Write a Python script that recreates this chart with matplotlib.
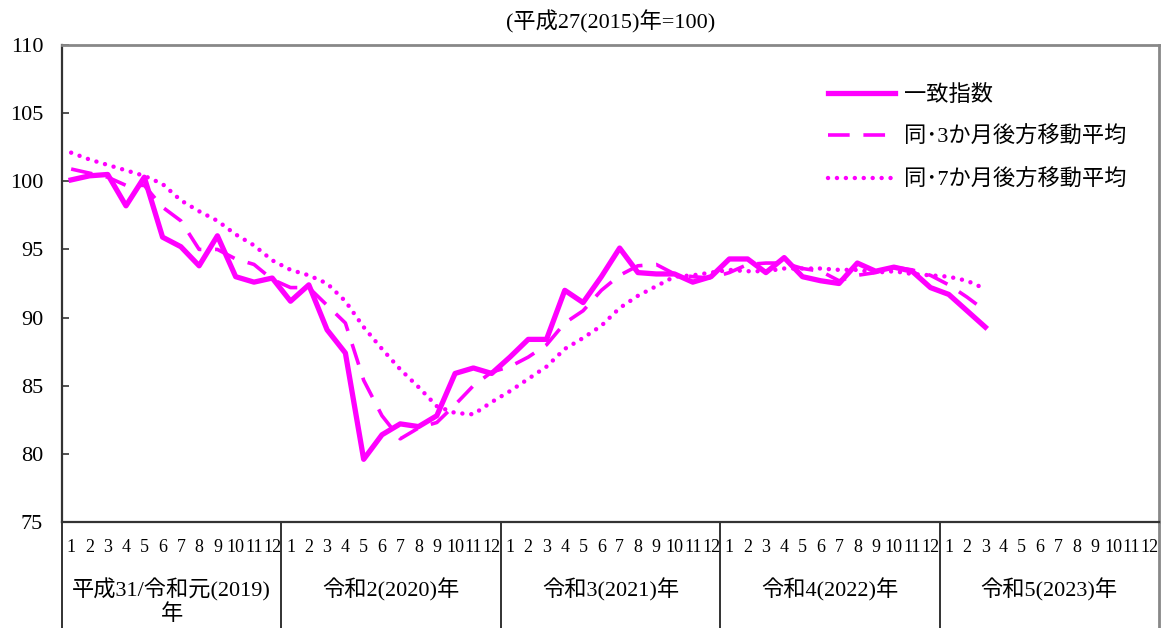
import matplotlib
matplotlib.use("Agg")
import matplotlib.pyplot as plt

# ---- data ----
years = ["平成31/令和元(2019)", "令和2(2020)年", "令和3(2021)年", "令和4(2022)年", "令和5(2023)年"]
months = [str(m) for m in range(1, 13)]

coincident = [100.1, 100.4, 100.5, 98.2, 100.3, 95.9, 95.2, 93.8, 96.0, 93.0, 92.6, 92.9,
              91.2, 92.4, 89.1, 87.4, 79.6, 81.4, 82.2, 82.0, 82.8, 85.9, 86.3, 85.9,
              87.1, 88.4, 88.4, 92.0, 91.1, 93.0, 95.1, 93.3, 93.2, 93.2, 92.6, 93.0,
              94.3, 94.3, 93.3, 94.4, 93.0, 92.7, 92.5, 94.0, 93.4, 93.7, 93.4, 92.2,
              91.7, 90.5, 89.3]

ma3 = [100.9, 100.6, 100.3, 99.7, 99.7, 98.1, 97.1, 95.0, 95.0, 94.3, 93.9, 92.8,
       92.2, 92.2, 90.9, 89.6, 85.4, 82.8, 81.1, 81.9, 82.3, 83.6, 85.0, 86.0,
       86.4, 87.1, 88.0, 89.6, 90.5, 92.0, 93.1, 93.8, 93.9, 93.2, 93.0, 92.9,
       93.3, 93.9, 94.0, 94.0, 93.6, 93.4, 92.7, 93.1, 93.3, 93.7, 93.5, 93.1,
       92.4, 91.5, 90.5]

ma7 = [102.1, 101.6, 101.2, 100.8, 100.4, 99.8, 98.6, 97.8, 97.1, 96.1, 95.3, 94.2,
       93.5, 93.1, 92.5, 91.2, 89.3, 87.7, 86.2, 84.9, 83.5, 83.0, 82.9, 83.8,
       84.6, 85.5, 86.4, 87.7, 88.5, 89.4, 90.7, 91.6, 92.3, 93.0, 93.1, 93.3,
       93.5, 93.4, 93.4, 93.6, 93.6, 93.6, 93.5, 93.5, 93.3, 93.4, 93.2, 93.1,
       93.0, 92.7, 92.1]

labels = ["一致指数", "同･3か月後方移動平均", "同･7か月後方移動平均"]
title = "(平成27(2015)年=100)"

# ---- figure ----
W, H = 1162, 628
fig = plt.figure(figsize=(W / 100, H / 100), dpi=100)
L, R, T, B = 62, 1159, 45, 522
ax = fig.add_axes([L / W, 1 - B / H, (R - L) / W, (B - T) / H])

FONT = ["Liberation Serif", "Noto Sans CJK JP", "DejaVu Sans"]
FS = 16
FS_M = 13
col = "#FF00FF"

x = list(range(len(coincident)))
ax.plot(x, coincident, color=col, lw=3.8, solid_joinstyle="round", label=labels[0], zorder=4)
ax.plot(x, ma3, color=col, lw=2.6, linestyle=(0, (6.0, 3.8)), label=labels[1], zorder=3)
ax.plot(x, ma7, color=col, lw=3.2, linestyle=(0, (0.01, 2.0)), dash_capstyle="round",
        label=labels[2], zorder=2)

n_months = len(years) * 12
ax.set_xlim(-0.5, n_months - 0.5)
ax.set_ylim(75, 110)
ax.set_yticks(range(75, 111, 5))
ax.set_yticklabels([str(v) for v in range(75, 111, 5)], fontfamily=FONT, fontsize=FS)
ax.tick_params(axis="y", direction="in", length=5, width=1.2, pad=13.5, color="#333333")
ax.set_xticks([])

for s in ["left", "bottom"]:
    ax.spines[s].set_color("#333333")
    ax.spines[s].set_linewidth(1.6)
for s in ["top", "right"]:
    ax.spines[s].set_color("#888888")
    ax.spines[s].set_linewidth(2.0)

# category table below the axes
trans = ax.get_xaxis_transform()
month_y = -(548 - B) / (B - T)
year_y = -(590 - B) / (B - T)
year2_y = -(615 - B) / (B - T)
bottom_y = -(H - B + 2) / (B - T)
for yi in range(len(years)):
    for mi, m in enumerate(months):
        ax.text(yi * 12 + mi, month_y, m, transform=trans, ha="center", va="center",
                fontfamily=FONT, fontsize=FS_M, clip_on=False)
    ax.text(yi * 12 + 5.5, year_y, years[yi], transform=trans, ha="center", va="center",
            fontfamily=FONT, fontsize=FS, clip_on=False)
ax.text(5.5, year2_y, "年", transform=trans, ha="center", va="center",
        fontfamily=FONT, fontsize=FS, clip_on=False)

for k in range(len(years) + 1):
    xv = k * 12 - 0.5
    c = "#888888" if k == len(years) else "#222222"
    ax.plot([xv, xv], [0, bottom_y], transform=trans, color=c,
            lw=2.0 if k == len(years) else 1.3, clip_on=False)

# title
fig.text((L + R) / 2 / W, 1 - 22 / H, title, ha="center", va="center",
         fontfamily=FONT, fontsize=FS)

# legend
leg = ax.legend(loc="upper left", bbox_to_anchor=(828 / W, 1 - 85 / H),
                bbox_transform=fig.transFigure, frameon=False, borderpad=0,
                borderaxespad=0, handlelength=3.0, handletextpad=0.4,
                labelspacing=0.95, prop={"family": FONT, "size": FS})

fig.savefig("out.png", dpi=100)
